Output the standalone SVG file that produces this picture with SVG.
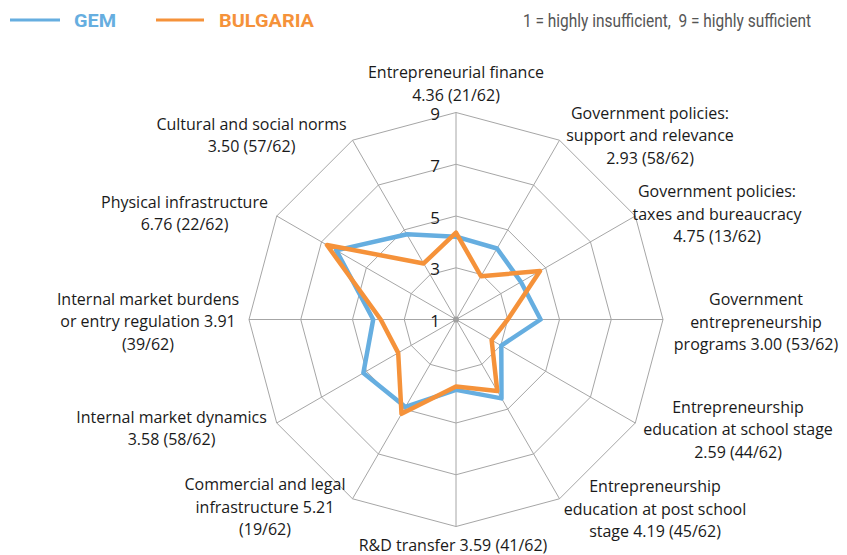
<svg xmlns="http://www.w3.org/2000/svg" width="847" height="555" viewBox="0 0 847 555">
<style>
.grid{fill:none;stroke:#a6a6a6;stroke-width:1}
.spoke{stroke:#a6a6a6;stroke-width:1}
.series{fill:none;stroke-width:4.5;stroke-linejoin:round}
.gem{stroke:#66aee0}
.bg{stroke:#f5923a}
.lbl{font-family:"Open Sans","Liberation Sans",sans-serif;font-size:16px;fill:#1a1a1a;text-anchor:middle}
.ax{font-family:"Open Sans","Liberation Sans",sans-serif;font-size:17px;fill:#1a1a1a;text-anchor:end}
.leg{font-family:Roboto,"Liberation Sans",sans-serif;font-weight:bold;font-size:19px}
.note{font-family:Roboto,"Liberation Sans",sans-serif;font-size:18px;fill:#555}
</style>
<rect width="847" height="555" fill="#ffffff"/>
<g id="legend">
<line x1="10" y1="20" x2="60" y2="20" stroke="#66aee0" stroke-width="3"/>
<text class="leg" x="74" y="27" fill="#66aee0" textLength="42" lengthAdjust="spacingAndGlyphs">GEM</text>
<line x1="156" y1="20" x2="204" y2="20" stroke="#f5923a" stroke-width="3"/>
<text class="leg" x="219" y="27" fill="#f5923a" textLength="95" lengthAdjust="spacingAndGlyphs">BULGARIA</text>
<text class="note" x="523" y="27" textLength="288" lengthAdjust="spacingAndGlyphs">1 = highly insufficient,&#160; 9 = highly sufficient</text>
</g>
<g id="grid" transform="translate(456,319.5)">
<polygon class="grid" points="0,-207 103.5,-179.27 179.27,-103.5 207,0 179.27,103.5 103.5,179.27 0,207 -103.5,179.27 -179.27,103.5 -207,0 -179.27,-103.5 -103.5,-179.27"/>
<polygon class="grid" points="0,-155.25 77.63,-134.45 134.45,-77.63 155.25,0 134.45,77.63 77.63,134.45 0,155.25 -77.63,134.45 -134.45,77.63 -155.25,0 -134.45,-77.63 -77.63,-134.45"/>
<polygon class="grid" points="0,-103.5 51.75,-89.64 89.64,-51.75 103.5,0 89.64,51.75 51.75,89.64 0,103.5 -51.75,89.64 -89.64,51.75 -103.5,0 -89.64,-51.75 -51.75,-89.64"/>
<polygon class="grid" points="0,-51.75 25.88,-44.82 44.82,-25.88 51.75,0 44.82,25.88 25.88,44.82 0,51.75 -25.88,44.82 -44.82,25.88 -51.75,0 -44.82,-25.88 -25.88,-44.82"/>
<g id="connectors">
<line class="spoke" x1="0" y1="0" x2="0" y2="-207"/>
<line class="spoke" x1="0" y1="0" x2="103.5" y2="-179.27"/>
<line class="spoke" x1="0" y1="0" x2="179.27" y2="-103.5"/>
<line class="spoke" x1="0" y1="0" x2="207" y2="0"/>
<line class="spoke" x1="0" y1="0" x2="179.27" y2="103.5"/>
<line class="spoke" x1="0" y1="0" x2="103.5" y2="179.27"/>
<line class="spoke" x1="0" y1="0" x2="0" y2="207"/>
<line class="spoke" x1="0" y1="0" x2="-103.5" y2="179.27"/>
<line class="spoke" x1="0" y1="0" x2="-179.27" y2="103.5"/>
<line class="spoke" x1="0" y1="0" x2="-207" y2="0"/>
<line class="spoke" x1="0" y1="0" x2="-179.27" y2="-103.5"/>
<line class="spoke" x1="0" y1="0" x2="-103.5" y2="-179.27"/>
</g>
<circle cx="0" cy="0" r="3" fill="#a0a0a0"/>
<polygon id="series-gem" class="series gem" points="0,-82.8 41,-71 64.96,-37.5 84.6,0 45.3,26.1 45.5,78.9 0,70.4 -50.5,87.4 -92.6,53.4 -82.8,0 -119.7,-69.1 -48.9,-85.3"/>
<polygon id="series-bulgaria" class="series bg" points="0,-86.94 24.97,-43.25 84.03,-48.52 51.75,0 35.63,20.57 41.27,71.48 0,67.02 -54.47,94.34 -57.81,33.38 -75.3,0 -129.07,-74.52 -32.34,-56.02"/>
</g>
<g id="axis-values">
<text class="ax" x="440" y="120">9</text>
<text class="ax" x="440" y="172">7</text>
<text class="ax" x="440" y="224">5</text>
<text class="ax" x="440" y="275">3</text>
<text class="ax" x="440" y="327">1</text>
</g>
<g id="n0"><text class="lbl" x="456" y="78">Entrepreneurial finance</text><text class="lbl" x="456" y="100.5">4.36 (21/62)</text></g>
<g id="n1"><text class="lbl" x="650" y="118.5">Government policies:</text><text class="lbl" x="650" y="141">support and relevance</text><text class="lbl" x="650" y="163.5">2.93 (58/62)</text></g>
<g id="n2"><text class="lbl" x="717" y="197">Government policies:</text><text class="lbl" x="717" y="219.5">taxes and bureaucracy</text><text class="lbl" x="717" y="242">4.75 (13/62)</text></g>
<g id="n3"><text class="lbl" x="756" y="305">Government</text><text class="lbl" x="756" y="327.5">entrepreneurship</text><text class="lbl" x="756" y="350">programs 3.00 (53/62)</text></g>
<g id="n4"><text class="lbl" x="738" y="412.5">Entrepreneurship</text><text class="lbl" x="738" y="435">education at school stage</text><text class="lbl" x="738" y="457.5">2.59 (44/62)</text></g>
<g id="n5"><text class="lbl" x="655" y="492">Entrepreneurship</text><text class="lbl" x="655" y="514.5">education at post school</text><text class="lbl" x="655" y="537">stage 4.19 (45/62)</text></g>
<g id="n6"><text class="lbl" x="453" y="550.5">R&amp;D transfer 3.59 (41/62)</text></g>
<g id="n7"><text class="lbl" x="265" y="490">Commercial and legal</text><text class="lbl" x="265" y="512.5">infrastructure 5.21</text><text class="lbl" x="265" y="535">(19/62)</text></g>
<g id="n8"><text class="lbl" x="171.5" y="422.5">Internal market dynamics</text><text class="lbl" x="171.5" y="445">3.58 (58/62)</text></g>
<g id="n9"><text class="lbl" x="148" y="304.5">Internal market burdens</text><text class="lbl" x="148" y="327">or entry regulation 3.91</text><text class="lbl" x="148" y="349.5">(39/62)</text></g>
<g id="n10"><text class="lbl" x="184.5" y="207.5">Physical infrastructure</text><text class="lbl" x="184.5" y="230">6.76 (22/62)</text></g>
<g id="n11"><text class="lbl" x="251.5" y="129.5">Cultural and social norms</text><text class="lbl" x="251.5" y="152">3.50 (57/62)</text></g>
</svg>
